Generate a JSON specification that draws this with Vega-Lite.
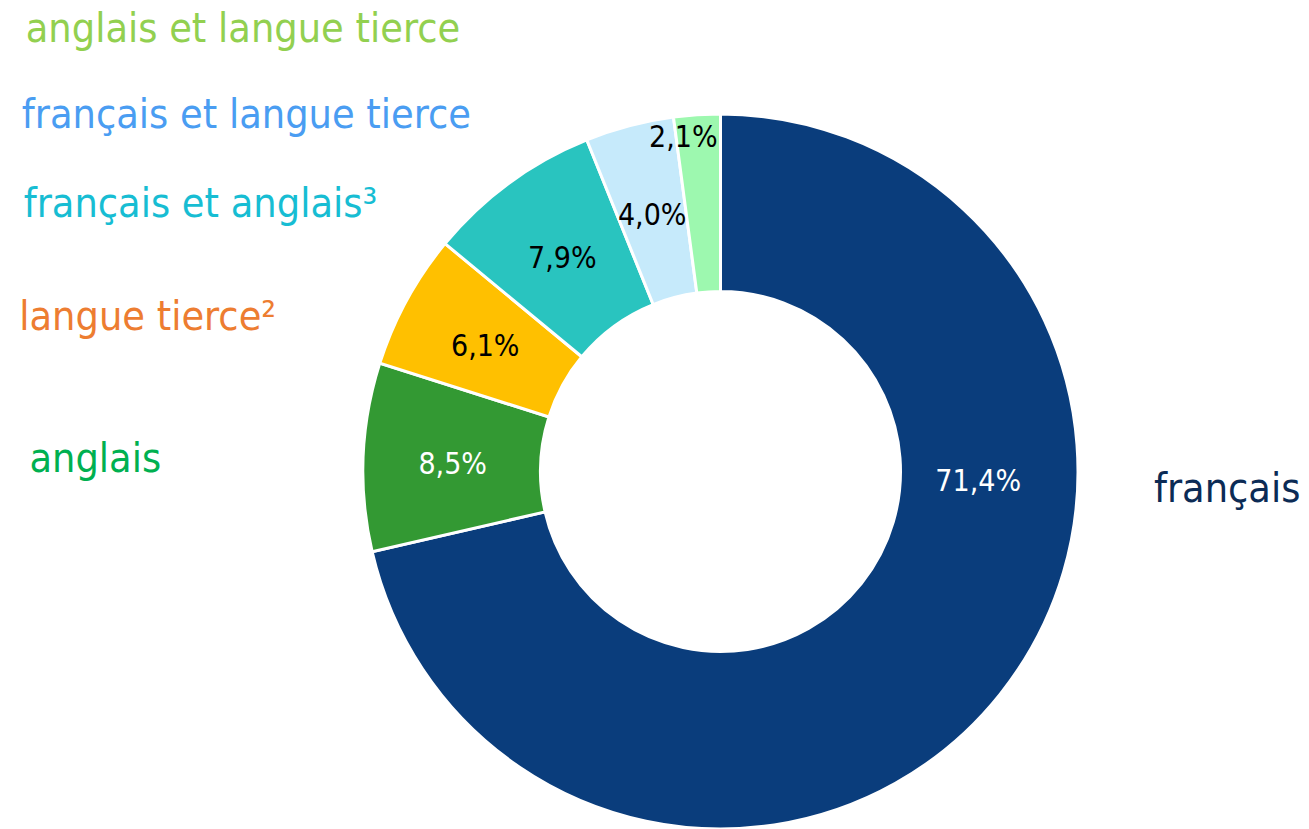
{
  "$schema": "https://vega.github.io/schema/vega-lite/v6.json",
  "autosize": {"type": "none"},
  "padding": {"left": 363, "top": 114, "right": 231, "bottom": 0},
  "width": 715,
  "height": 715,
  "background": "white",
  "view": {"stroke": null},
  "config": {
    "locale": {"number": {"decimal": ",", "thousands": "\u00a0", "grouping": [3], "currency": ["", "\u00a0€"]}},
    "text": {"font": "DejaVu Sans Condensed"}
  },
  "data": {
    "values": [
      {"cat": "français", "part": 0.714, "rang": 1},
      {"cat": "anglais", "part": 0.085, "rang": 2},
      {"cat": "langue tierce²", "part": 0.061, "rang": 3},
      {"cat": "français et anglais³", "part": 0.079, "rang": 4},
      {"cat": "français et langue tierce", "part": 0.040, "rang": 5},
      {"cat": "anglais et langue tierce", "part": 0.021, "rang": 6}
    ]
  },
  "encoding": {
    "theta": {"field": "part", "type": "quantitative", "stack": true},
    "order": {"field": "rang", "type": "quantitative"},
    "detail": {"field": "cat", "type": "nominal"}
  },
  "layer": [
    {
      "mark": {"type": "arc", "innerRadius": 180, "stroke": "white", "strokeWidth": 3},
      "encoding": {
        "color": {
          "field": "cat", "type": "nominal", "legend": null,
          "scale": {
            "domain": ["français", "anglais", "langue tierce²", "français et anglais³", "français et langue tierce", "anglais et langue tierce"],
            "range": ["#0A3D7C", "#339933", "#FFC000", "#29C4BF", "#C6EAFB", "#9DF8AF"]
          }
        }
      }
    },
    {
      "mark": {"type": "text", "radius": 268, "dy": 4, "fontSize": 30, "align": "center", "baseline": "middle"},
      "encoding": {
        "text": {"condition": {"test": "datum.rang >= 2 && datum.rang <= 5", "field": "part", "type": "quantitative", "format": ".1%"}, "value": ""},
        "color": {"condition": {"test": "datum.rang === 2", "value": "white"}, "value": "black"}
      }
    },
    {
      "mark": {"type": "text", "radius": 268, "dx": 48, "dy": -156, "fontSize": 30, "align": "center", "baseline": "middle", "color": "white"},
      "encoding": {
        "text": {"condition": {"test": "datum.rang === 1", "field": "part", "type": "quantitative", "format": ".1%"}, "value": ""}
      }
    },
    {
      "mark": {"type": "text", "radius": 336, "dx": -15, "dy": 2, "fontSize": 30, "align": "center", "baseline": "middle", "color": "black"},
      "encoding": {
        "text": {"condition": {"test": "datum.rang === 6", "field": "part", "type": "quantitative", "format": ".1%"}, "value": ""}
      }
    },
    {
      "mark": {"type": "text", "radius": 357.5, "dx": -454, "dy": -73, "fontSize": 41, "align": "center", "baseline": "alphabetic", "color": "#92D050"},
      "encoding": {"text": {"condition": {"test": "datum.rang === 6", "field": "cat", "type": "nominal"}, "value": ""}}
    },
    {
      "mark": {"type": "text", "radius": 357.5, "dx": -383, "dy": 2, "fontSize": 41, "align": "center", "baseline": "alphabetic", "color": "#4A9DF2"},
      "encoding": {"text": {"condition": {"test": "datum.rang === 5", "field": "cat", "type": "nominal"}, "value": ""}}
    },
    {
      "mark": {"type": "text", "radius": 357.5, "dx": -309, "dy": 34, "fontSize": 41, "align": "center", "baseline": "alphabetic", "color": "#17BDD3"},
      "encoding": {"text": {"condition": {"test": "datum.rang === 4", "field": "cat", "type": "nominal"}, "value": ""}}
    },
    {
      "mark": {"type": "text", "radius": 357.5, "dx": -259, "dy": 30, "fontSize": 41, "align": "center", "baseline": "alphabetic", "color": "#ED7D31"},
      "encoding": {"text": {"condition": {"test": "datum.rang === 3", "field": "cat", "type": "nominal"}, "value": ""}}
    },
    {
      "mark": {"type": "text", "radius": 357.5, "dx": -268, "dy": 15, "fontSize": 41, "align": "center", "baseline": "alphabetic", "color": "#00B050"},
      "encoding": {"text": {"condition": {"test": "datum.rang === 2", "field": "cat", "type": "nominal"}, "value": ""}}
    },
    {
      "mark": {"type": "text", "radius": 357.5, "dx": 227, "dy": -192, "fontSize": 41, "align": "center", "baseline": "alphabetic", "color": "#0C2B55"},
      "encoding": {"text": {"condition": {"test": "datum.rang === 1", "field": "cat", "type": "nominal"}, "value": ""}}
    }
  ]
}
